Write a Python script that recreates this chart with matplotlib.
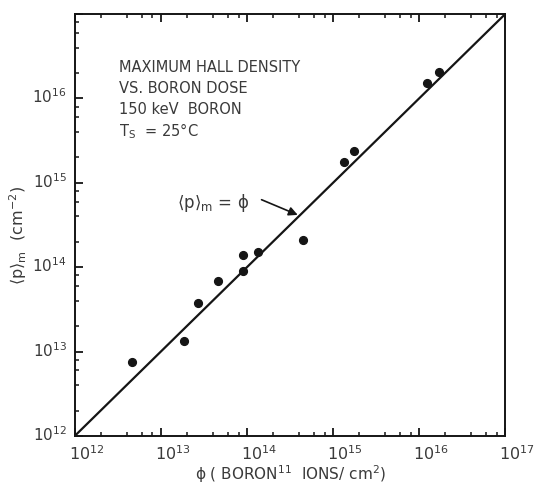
import matplotlib
matplotlib.use("Agg")
import matplotlib.pyplot as plt
import matplotlib.transforms as mtransforms
from matplotlib.ticker import LogLocator, NullFormatter

# Boron dose (ions/cm^2) and measured maximum Hall sheet density (cm^-2)
dose = [4.6e12, 1.84e13, 2.67e13, 4.6e13, 9.0e13, 9.0e13, 1.34e14, 4.5e14,
        1.34e15, 1.76e15, 1.25e16, 1.72e16]
hall_density = [7.5e12, 1.33e13, 3.8e13, 6.8e13, 1.39e14, 9.0e13, 1.52e14, 2.08e14,
                1.75e15, 2.37e15, 1.52e16, 2.05e16]

# Reference line <p>_m = phi
ideal_x = [1e12, 1e17]
ideal_y = [1e12, 1e17]

decade_exponents = [12, 13, 14, 15, 16, 17]

ink = "#151515"
text_col = "#3a3a3a"

fig = plt.figure(figsize=(5.34, 4.86), dpi=100)
ax = fig.add_axes([0.140, 0.103, 0.806, 0.868])

ax.plot(ideal_x, ideal_y, color=ink, lw=1.6, solid_capstyle="butt", zorder=2)
ax.plot(dose, hall_density, "o", color=ink, ms=5.6, mec=ink, zorder=3)

ax.set_xscale("log")
ax.set_yscale("log")
ax.set_xlim(1e12, 1e17)
ax.set_ylim(1e12, 1e17)

for side in ["left", "bottom", "top", "right"]:
    ax.spines[side].set_linewidth(1.4)
    ax.spines[side].set_color(ink)

for axis in (ax.xaxis, ax.yaxis):
    axis.set_major_locator(LogLocator(base=10, numticks=10))
    axis.set_minor_locator(LogLocator(base=10, subs=(2, 4, 6, 8), numticks=10))
    axis.set_major_formatter(NullFormatter())
    axis.set_minor_formatter(NullFormatter())

ax.tick_params(which="major", direction="in", length=6, width=1.3, color=ink,
               top=True, bottom=True, left=True, right=False)
ax.tick_params(which="minor", direction="in", length=3, width=1.1, color=ink,
               top=True, bottom=True, left=True, right=False)

# Decade labels
xoff = mtransforms.offset_copy(ax.get_xaxis_transform(), fig=fig, x=-6, y=-8, units="dots")
yoff = mtransforms.offset_copy(ax.get_yaxis_transform(), fig=fig, x=-8, y=-5, units="dots")
for e in decade_exponents:
    ax.text(10.0 ** e, 0, r"$\mathregular{10^{%d}}$" % e, transform=xoff,
            ha="left", va="top", fontsize=11.5, color=text_col, clip_on=False)
    if e < 17:
        ax.text(0, 10.0 ** e, r"$\mathregular{10^{%d}}$" % e, transform=yoff,
                ha="right", va="baseline", fontsize=11, color=text_col, clip_on=False)

fig.text(290 / 534, 1 - 474 / 486,
         r"ϕ ( BORON$\mathregular{^{11}}$  IONS/ cm$\mathregular{^{2}}$)",
         ha="center", va="center", fontsize=11, color=text_col)
fig.text(18 / 534, 1 - 236 / 486,
         r"$\mathregular{\langle p \rangle_m}$  (cm$\mathregular{^{-2}}$)",
         ha="center", va="center", rotation=90, fontsize=11.5, color=text_col)

# Experimental conditions
info = ["MAXIMUM HALL DENSITY", "VS. BORON DOSE", "150 keV  BORON",
        r"T$\mathregular{_S}$  = 25°C"]
for i, line in enumerate(info):
    fig.text(119 / 534, 1 - (67 + i * 21.5) / 486, line, ha="left", va="center",
             fontsize=10.5, color=text_col)

ax.text(10 ** 13.19, 10 ** 14.76, r"$\mathregular{\langle p \rangle_m}$ = ϕ",
        ha="left", va="center", fontsize=12, color=text_col)
ax.annotate("", xy=(10 ** 14.59, 10 ** 14.62), xytext=(10 ** 14.17, 10 ** 14.80),
            arrowprops=dict(arrowstyle="-|>", color=ink, lw=1.2, mutation_scale=13,
                            shrinkA=0, shrinkB=0))

fig.savefig("out.png", dpi=100)
